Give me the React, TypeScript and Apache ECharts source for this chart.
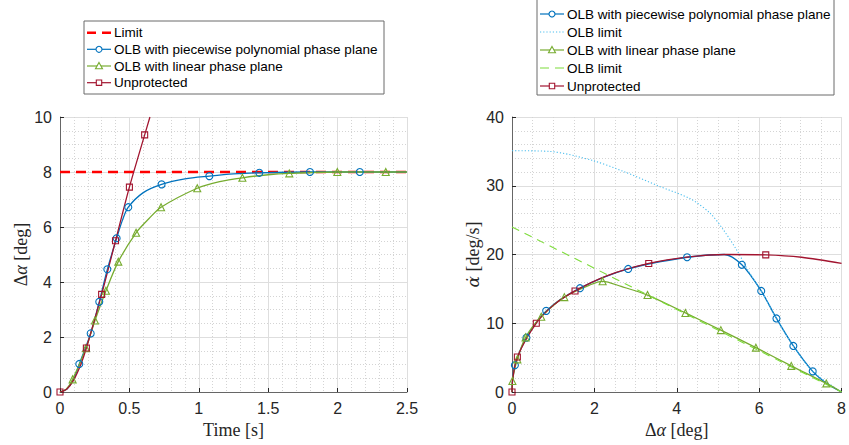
import React, { useEffect, useRef } from "react";
import * as echarts from "echarts";

// ---------- Left plot: Δα vs Time ----------
const limitLine = [[0, 8], [2.5, 8]];
const blueTimeMarkers = [[0.139, 1.02], [0.221, 2.13], [0.283, 3.28], [0.341, 4.46], [0.408, 5.59], [0.492, 6.72], [0.732, 7.55], [1.076, 7.85], [1.436, 7.97], [1.801, 8.0], [2.16, 8.0]];
const blueTimeCurve = [[0, 0], [0.05, 0.11], [0.1, 0.47], [0.45, 6.25], [0.6, 7.25], [0.9, 7.75], [1.25, 7.93], [2.5, 8.0]];
const greenTimeMarkers = [[0.091, 0.46], [0.187, 1.59], [0.252, 2.6], [0.331, 3.68], [0.42, 4.74], [0.548, 5.79], [0.728, 6.72], [0.989, 7.41], [1.314, 7.79], [1.652, 7.95], [1.998, 8.0], [2.347, 8.0]];
const greenTimeCurve = [[0, 0], [0.045, 0.1], [0.64, 6.3], [1.15, 7.65], [1.5, 7.9], [2.5, 8.0]];
const redTimeMarkers = [[0, 0], [0.19, 1.6], [0.3, 3.55], [0.4, 5.5], [0.5, 7.45], [0.61, 9.35]];
const redTimeCurve = [[0.05, 0.11], [0.1, 0.45], [0.15, 1.0], [0.648, 10]];

// ---------- Right plot: α̇ vs Δα ----------
const blueRateMarkers = [[0.07, 3.9], [0.35, 7.9], [0.83, 11.8], [1.65, 15.1], [2.82, 17.9], [4.25, 19.6], [5.58, 18.5], [6.05, 14.7], [6.42, 10.7], [6.83, 6.7], [7.3, 3.0]];
const blueRateCurve = [[0, 0], [0.01, 1.4], [5.15, 20.0], [7.65, 1.2], [8, 0]];
const blueLimit = [[0, 35.1], [0.9, 35.0], [1.94, 33.7], [2.74, 32.0], [3.54, 30.0], [4.33, 28.1], [4.81, 26.0], [5.13, 23.6], [5.45, 20.7], [5.77, 17.3], [6.05, 14.7], [6.42, 10.7], [6.83, 6.7], [7.3, 3.0], [8, 0]];
const greenRateMarkers = [[0.01, 1.6], [0.13, 4.75], [0.33, 7.95], [0.71, 10.95], [1.27, 13.8], [2.2, 16.1], [3.29, 14.1], [4.21, 11.5], [5.07, 9.0], [5.92, 6.45], [6.78, 3.8], [7.63, 1.25]];
const greenRateCurve = [[0, 0], [1.9, 15.6], [2.65, 15.35], [8, 0]];
const greenLimit = [[0, 24], [8, 0]];
const redRateMarkers = [[0, 0], [0.13, 5.1], [0.59, 10.0], [1.53, 14.7], [3.32, 18.7], [6.16, 19.95]];
const redRateCurve = [[0.02, 2.0], [1.0, 12.6], [2.3, 16.9], [4.3, 19.65], [5.2, 20.0], [7.03, 19.6], [8, 18.7]];

const NAME_PIECE = "OLB with piecewise polynomial phase plane";
const NAME_LIN = "OLB with linear phase plane";
const NAME_UNP = "Unprotected";
const NAME_LIMIT = "Limit";
const NAME_OLB_LIMIT = "OLB limit";

const BLUE = "#0072bd";
const LIGHTBLUE = "#4dbeee";
const GREEN = "#77ac30";
const LIME = "#7ddc3a";
const RED = "#a2142f";
const AX = "#262626";

const SANS = "'Liberation Sans', Arial, Helvetica, sans-serif";
const SERIF = "'Liberation Serif', 'DejaVu Serif', 'Times New Roman', serif";

function build(markers: number[][], curve: number[][]) {
  const pts = [
    ...markers.map((p) => ({ value: p, mk: true })),
    ...curve.map((p) => ({ value: p, mk: false })),
  ].sort((a, b) => a.value[0] - b.value[0] || a.value[1] - b.value[1]);
  return pts.map((p) => (p.mk ? { value: p.value } : { value: p.value, symbol: "none" }));
}

function markerSeries(name: string, color: string, symbol: string, size: number, data: any[], xi: number) {
  return {
    type: "line",
    name,
    xAxisIndex: xi,
    yAxisIndex: xi,
    data,
    smooth: 0.3,
    symbol,
    symbolSize: size,
    showAllSymbol: true,
    lineStyle: { color, width: 1.3 },
    itemStyle: { color: "rgba(255,255,255,0)", borderColor: color, borderWidth: 1.1 },
    emphasis: { disabled: true },
  };
}

function axisCommon() {
  return {
    axisLine: { show: true, onZero: false, lineStyle: { color: "#666", width: 1 } },
    axisTick: { show: true, inside: true, length: 4, lineStyle: { color: AX } },
    axisLabel: { color: AX, fontFamily: SANS, fontSize: 16 },
    splitLine: { show: true, lineStyle: { color: "#dedede", width: 1 } },
    minorTick: { show: false },
    minorSplitLine: { show: true, lineStyle: { color: "#d4d4d4", width: 1, type: [1, 2] } },
    nameLocation: "middle",
    nameTextStyle: {
      color: AX,
      fontFamily: SERIF,
      fontSize: 18,
      rich: {
        i: { fontStyle: "italic", fontFamily: SERIF, fontSize: 18, color: AX },
        d: { fontStyle: "italic", fontFamily: "'DejaVu Serif', serif", fontSize: 17, color: AX },
      },
    },
  };
}

type Item = { name: string; color: string; kind: "dash" | "dot" | "solid"; width: number; marker?: "circle" | "triangle" | "rect" };

function legendGraphic(x: number, y: number, w: number, h: number, rows: number[], items: Item[]) {
  const children: any[] = [
    { type: "rect", shape: { x, y, width: w, height: h }, style: { fill: "#fff", stroke: "#6a6a6a", lineWidth: 1 }, z: 100 },
  ];
  items.forEach((it, i) => {
    const cy = rows[i];
    const x0 = x + 3;
    const x1 = x0 + 24;
    const dash = it.kind === "dash" ? [9, 6] : it.kind === "dot" ? [1.2, 2] : null;
    children.push({
      type: "line",
      shape: { x1: x0, y1: cy, x2: x1, y2: cy },
      style: { stroke: it.color, lineWidth: it.width, lineDash: dash },
      z: 101,
    });
    const mx = (x0 + x1) / 2;
    if (it.marker === "circle") {
      children.push({ type: "circle", shape: { cx: mx, cy, r: 3 }, style: { fill: "#fff", stroke: it.color, lineWidth: 1.1 }, z: 102 });
    } else if (it.marker === "triangle") {
      children.push({ type: "polygon", shape: { points: [[mx, cy - 3.5], [mx + 3.5, cy + 2.8], [mx - 3.5, cy + 2.8]] }, style: { fill: "#fff", stroke: it.color, lineWidth: 1.1 }, z: 102 });
    } else if (it.marker === "rect") {
      children.push({ type: "rect", shape: { x: mx - 2.7, y: cy - 2.7, width: 5.4, height: 5.4 }, style: { fill: "#fff", stroke: it.color, lineWidth: 1.1 }, z: 102 });
    }
    children.push({
      type: "text",
      x: x1 + 3,
      y: cy,
      style: { text: it.name, fill: "#000", font: `13.5px ${SANS}`, textVerticalAlign: "middle", verticalAlign: "middle" },
      z: 103,
    });
  });
  return { type: "group", children };
}

export default function App() {
  const ref = useRef<HTMLDivElement>(null);
  useEffect(() => {
    if (!ref.current) return;
    const chart = echarts.init(ref.current, undefined, { renderer: "svg" });
    const c = axisCommon();
    chart.setOption({
      animation: false,
      backgroundColor: "#fff",
      grid: [
        { left: 60, top: 117, width: 347, height: 275, containLabel: false },
        { left: 512, top: 117, width: 335, height: 275, containLabel: false },
      ],
      xAxis: [
        { ...c, type: "value", gridIndex: 0, min: 0, max: 2.5, interval: 0.5, minorTick: { show: false, splitNumber: 5 }, name: "Time [s]", nameGap: 25 },
        { ...c, type: "value", gridIndex: 1, min: 0, max: 8, interval: 2, minorTick: { show: false, splitNumber: 4 }, name: "Δ{i|α} [deg]", nameGap: 25 },
      ],
      yAxis: [
        { ...c, type: "value", gridIndex: 0, min: 0, max: 10, interval: 2, minorTick: { show: false, splitNumber: 4 }, name: "Δ{i|α} [deg]", nameGap: 28 },
        { ...c, type: "value", gridIndex: 1, min: 0, max: 40, interval: 10, minorTick: { show: false, splitNumber: 5 }, name: "{d|α̇} [deg/s]", nameGap: 29 },
      ],
      graphic: [
        legendGraphic(84, 21, 300, 73, [32.7, 49.3, 66, 82.7], [
          { name: NAME_LIMIT, color: "#ff0000", kind: "dash", width: 2.5 },
          { name: NAME_PIECE, color: BLUE, kind: "solid", width: 1.2, marker: "circle" },
          { name: NAME_LIN, color: GREEN, kind: "solid", width: 1.2, marker: "triangle" },
          { name: NAME_UNP, color: RED, kind: "solid", width: 1.2, marker: "rect" },
        ]),
        legendGraphic(537, -1, 297, 96, [14, 32, 50, 68, 86], [
          { name: NAME_PIECE, color: BLUE, kind: "solid", width: 1.2, marker: "circle" },
          { name: NAME_OLB_LIMIT, color: LIGHTBLUE, kind: "dot", width: 1.1 },
          { name: NAME_LIN, color: GREEN, kind: "solid", width: 1.2, marker: "triangle" },
          { name: NAME_OLB_LIMIT, color: LIME, kind: "dash", width: 1.1 },
          { name: NAME_UNP, color: RED, kind: "solid", width: 1.2, marker: "rect" },
        ]),
      ],
      series: [
        {
          type: "line",
          name: NAME_LIMIT,
          xAxisIndex: 0,
          yAxisIndex: 0,
          data: limitLine,
          symbol: "none",
          lineStyle: { color: "#ff0000", width: 2.5, type: [10, 6] },
          itemStyle: { color: "#ff0000" },
          emphasis: { disabled: true },
        },
        markerSeries(NAME_PIECE, BLUE, "circle", 7, build(blueTimeMarkers, blueTimeCurve), 0),
        markerSeries(NAME_LIN, GREEN, "triangle", 7, build(greenTimeMarkers, greenTimeCurve), 0),
        markerSeries(NAME_UNP, RED, "rect", 6, build(redTimeMarkers, redTimeCurve), 0),

        markerSeries(NAME_PIECE, BLUE, "circle", 7, build(blueRateMarkers, blueRateCurve), 1),
        {
          type: "line",
          name: NAME_OLB_LIMIT,
          xAxisIndex: 1,
          yAxisIndex: 1,
          data: blueLimit,
          smooth: 0.3,
          symbol: "none",
          lineStyle: { color: LIGHTBLUE, width: 1.1, type: [1.2, 2] },
          itemStyle: { color: LIGHTBLUE },
          emphasis: { disabled: true },
        },
        markerSeries(NAME_LIN, GREEN, "triangle", 7, build(greenRateMarkers, greenRateCurve), 1),
        {
          type: "line",
          name: NAME_OLB_LIMIT + " (linear)",
          xAxisIndex: 1,
          yAxisIndex: 1,
          data: greenLimit,
          symbol: "none",
          lineStyle: { color: LIME, width: 1.1, type: [8, 6] },
          itemStyle: { color: LIME },
          emphasis: { disabled: true },
        },
        markerSeries(NAME_UNP, RED, "rect", 6, build(redRateMarkers, redRateCurve), 1),
      ],
    });
    return () => chart.dispose();
  }, []);
  return <div ref={ref} style={{ position: "absolute", left: 0, top: 0, width: 849, height: 445 }} />;
}
